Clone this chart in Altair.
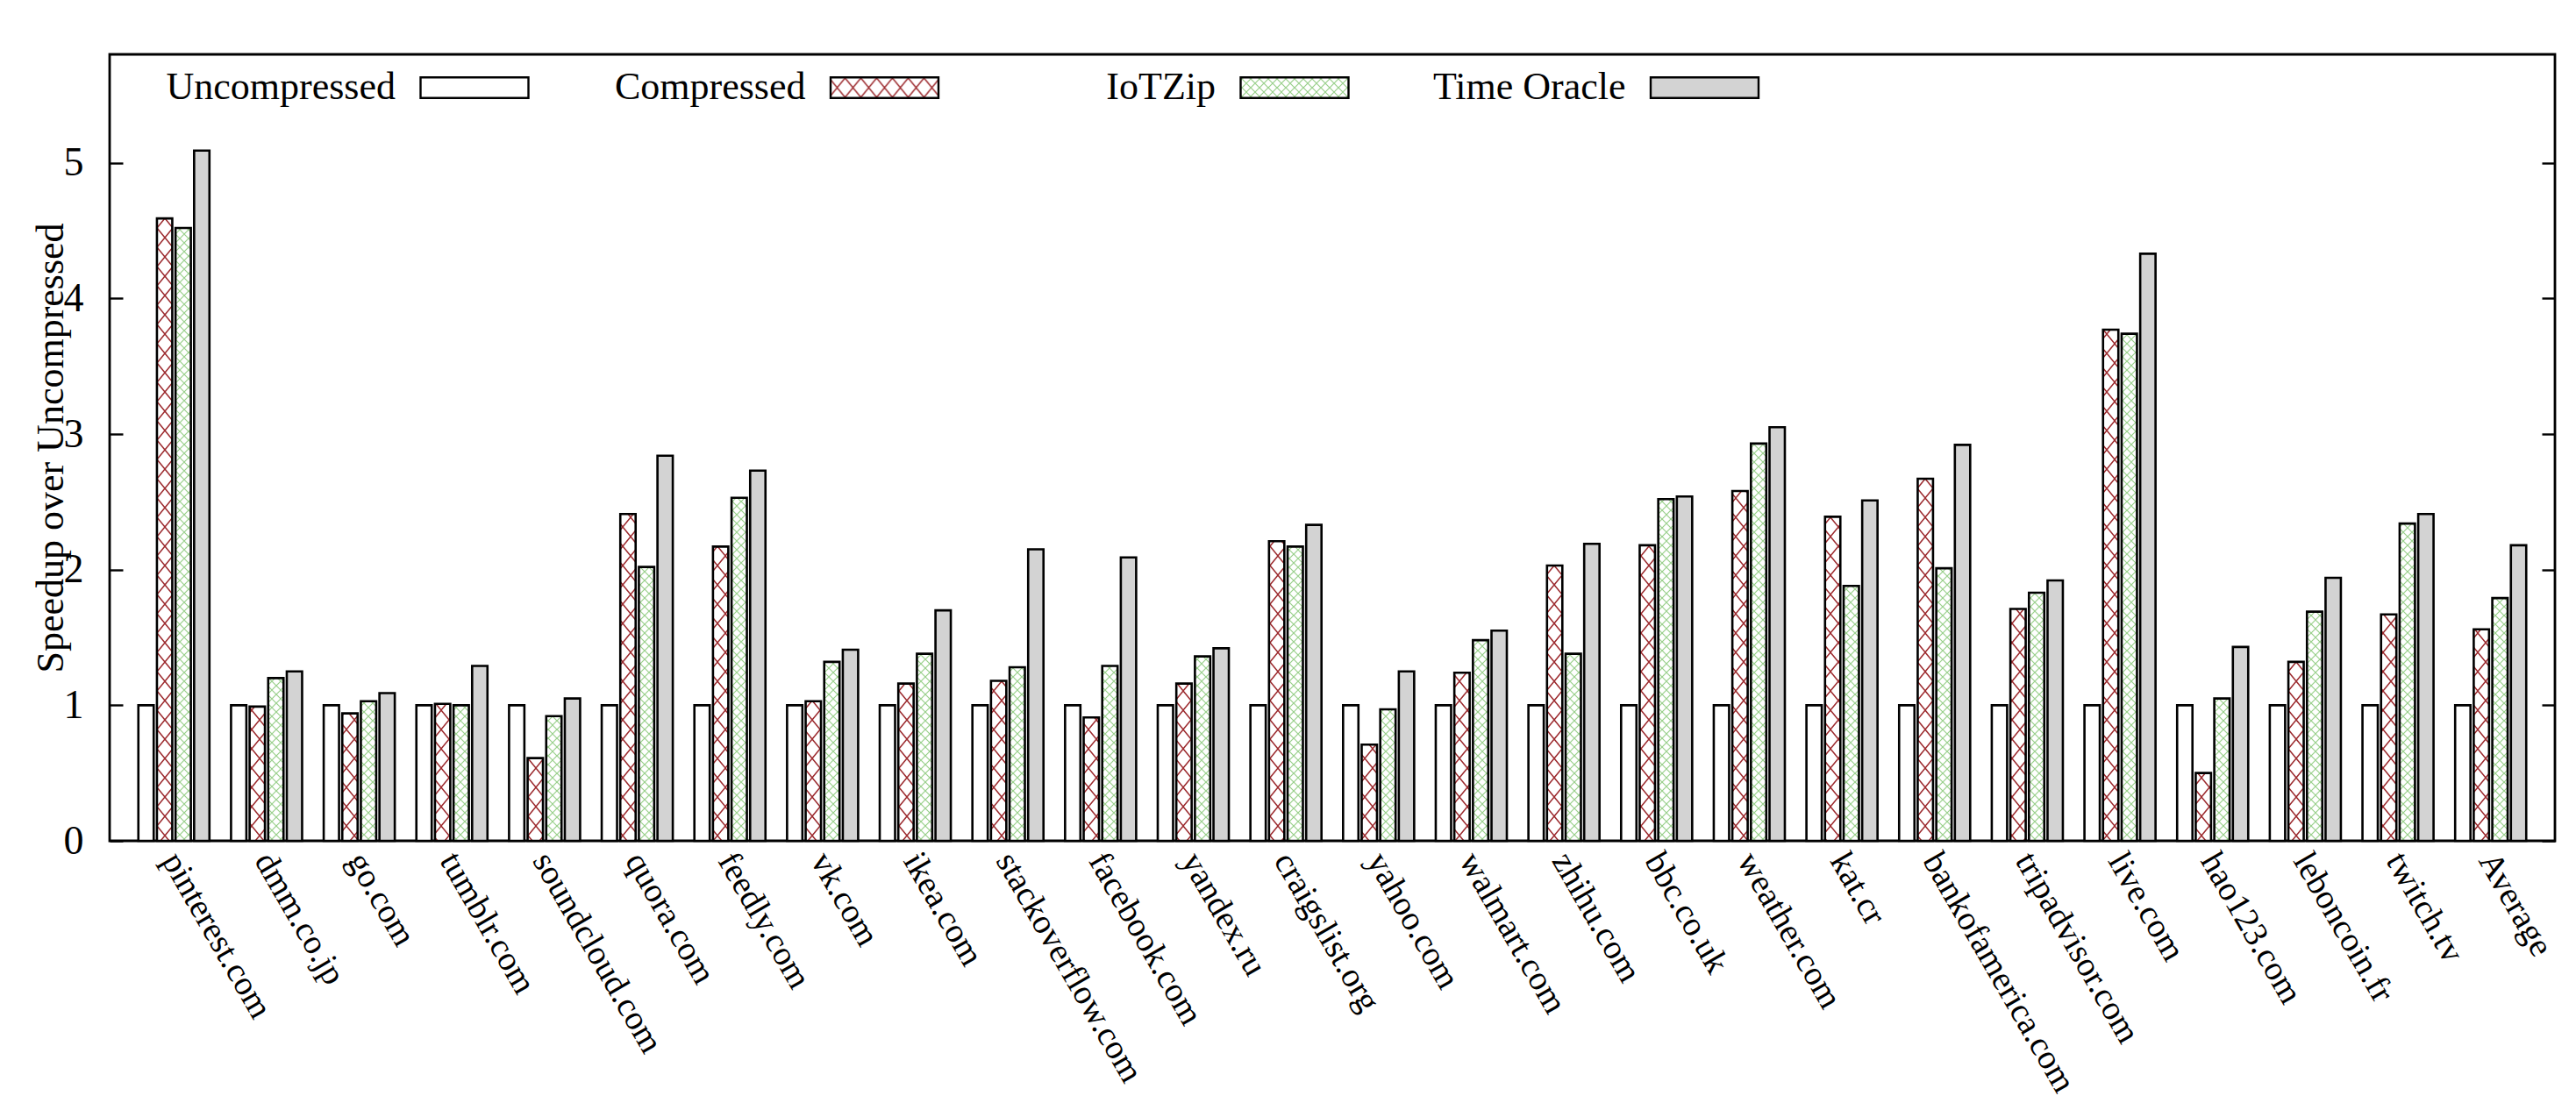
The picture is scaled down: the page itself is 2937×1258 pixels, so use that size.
import altair as alt
import pandas as pd
import jinja2

# ---------------- data ----------------
sites = ["pinterest.com", "dmm.co.jp", "go.com", "tumblr.com", "soundcloud.com",
         "quora.com", "feedly.com", "vk.com", "ikea.com", "stackoverflow.com",
         "facebook.com", "yandex.ru", "craigslist.org", "yahoo.com", "walmart.com",
         "zhihu.com", "bbc.co.uk", "weather.com", "kat.cr", "bankofamerica.com",
         "tripadvisor.com", "live.com", "hao123.com", "leboncoin.fr", "twitch.tv",
         "Average"]
series = ["Uncompressed", "Compressed", "IoTZip", "Time Oracle"]

uncompressed = [1.00] * 26
compressed = [4.59, 0.99, 0.94, 1.01, 0.61, 2.41, 2.17, 1.03, 1.16, 1.18,
              0.91, 1.16, 2.21, 0.71, 1.24, 2.03, 2.18, 2.58, 2.39, 2.67,
              1.71, 3.77, 0.50, 1.32, 1.67, 1.56]
iotzip = [4.52, 1.20, 1.03, 1.00, 0.92, 2.02, 2.53, 1.32, 1.38, 1.28,
          1.29, 1.36, 2.17, 0.97, 1.48, 1.38, 2.52, 2.93, 1.88, 2.01,
          1.83, 3.74, 1.05, 1.69, 2.34, 1.79]
oracle = [5.09, 1.25, 1.09, 1.29, 1.05, 2.84, 2.73, 1.41, 1.70, 2.15,
          2.09, 1.42, 2.33, 1.25, 1.55, 2.19, 2.54, 3.05, 2.51, 2.92,
          1.92, 4.33, 1.43, 1.94, 2.41, 2.18]
y_ticks = [0, 1, 2, 3, 4, 5]

fills = ["#ffffff", "url(#hatchRed)", "url(#hatchGreen)", "#d3d3d3"]

rows = []
for i, s in enumerate(sites):
    for name, vals in zip(series, [uncompressed, compressed, iotzip, oracle]):
        rows.append({"site": s, "series": name, "value": vals[i]})
df = pd.DataFrame(rows)

# ---------------- chart ----------------
W, H = 2788, 897
FONT = "Liberation Serif"
yscale = alt.Scale(domain=[0, 5.8], nice=False, zero=True)

x_enc = alt.X(
    "site:N", sort=sites,
    scale=alt.Scale(paddingInner=0.233, paddingOuter=0.31),
    axis=alt.Axis(title=None, labelAngle=60, labelAlign="left", labelBaseline="middle",
                  labelFont=FONT, labelFontSize=39, labelColor="black", labelPadding=16,
                  labelOffset=-4, ticks=False, domain=False, grid=False, labelLimit=0),
)

bars = alt.Chart(df).mark_bar(stroke="black", strokeWidth=2.6).encode(
    x=x_enc,
    xOffset=alt.XOffset("series:N", sort=series,
                        scale=alt.Scale(paddingInner=0.175, paddingOuter=0)),
    y=alt.Y("value:Q", scale=yscale,
            axis=alt.Axis(orient="left", values=y_ticks, title="Speedup over Uncompressed",
                          titleFont=FONT, titleFontSize=44, titleFontWeight="normal",
                          titleColor="black", titleX=-54, titleY=H / 2, titleAngle=-90,
                          titleAlign="center", titleBaseline="alphabetic",
                          labelFont=FONT, labelFontSize=46, labelColor="black",
                          labelPadding=30, ticks=False, tickSize=0, domain=False, grid=False)),
    fill=alt.Fill("series:N", sort=series,
                  scale=alt.Scale(domain=series, range=fills),
                  legend=alt.Legend(title=None, orient="none", legendX=63, legendY=-25,
                                    direction="horizontal", columns=4,
                                    symbolType="M-1,-0.19H1V0.19H-1Z", symbolSize=15129,
                                    symbolStrokeColor="black", symbolStrokeWidth=2.4,
                                    symbolOpacity=1,
                                    labelFont=FONT, labelFontSize=44, labelColor="black",
                                    labelAlign="right", labelOffset={"expr": "-153"},
                                    symbolOffset=290,
                                    labelLimit=0, columnPadding=47.5, gridAlign="all",
                                    padding=0)),
)

tick_left = alt.Chart(df).mark_point(opacity=0).encode(
    y=alt.Y("value:Q", scale=yscale,
            axis=alt.Axis(orient="right", offset=-W, values=y_ticks, labels=False,
                          ticks=True, tickSize=15, tickWidth=2.4, tickColor="black",
                          domain=False, grid=False, title=None))
)
tick_right = alt.Chart(df).mark_point(opacity=0).encode(
    y=alt.Y("value:Q", scale=yscale,
            axis=alt.Axis(orient="left", offset=-W, values=y_ticks, labels=False,
                          ticks=True, tickSize=15, tickWidth=2.4, tickColor="black",
                          domain=False, grid=False, title=None))
)

chart = (
    alt.layer(bars, tick_left, tick_right)
    .resolve_scale(y="independent")
    .properties(width=W, height=H, background="white",
                padding={"left": 28, "top": 29, "right": 5, "bottom": 5})
    .configure(font=FONT)
    .configure_view(stroke="black", strokeWidth=2.8)
)

PAGE = jinja2.Template("""<!DOCTYPE html>
<html>
<head>
  <meta charset="utf-8">
  <script type="text/javascript" src="{{ base_url }}/vega@{{ vega_version }}"></script>
  <script type="text/javascript" src="{{ base_url }}/vega-lite@{{ vegalite_version }}"></script>
  <script type="text/javascript" src="{{ base_url }}/vega-embed@{{ vegaembed_version }}"></script>
</head>
<body>
<svg width="0" height="0" style="position:absolute;left:0;top:0" aria-hidden="true">
  <defs>
    <pattern id="hatchRed" patternUnits="userSpaceOnUse" x="0" y="0" width="18" height="22">
      <rect x="0" y="0" width="18" height="22" fill="#ffffff"/>
      <path d="M-1,-1.22 L19,23.22 M19,-1.22 L-1,23.22" stroke="#9c2a2e" stroke-width="1.5" fill="none"/>
    </pattern>
    <pattern id="hatchGreen" patternUnits="userSpaceOnUse" x="0" y="0" width="10" height="10">
      <rect x="0" y="0" width="10" height="10" fill="#ffffff"/>
      <path d="M-1,-1 L11,11 M11,-1 L-1,11" stroke="#98d08a" stroke-width="1.2" fill="none"/>
    </pattern>
  </defs>
</svg>
<div id="{{ output_div }}"></div>
<script>
  (function(vegaEmbed) {
    var spec = {{ spec }};
    var embedOpt = {{ embed_options }};
    vegaEmbed("#{{ output_div }}", spec, embedOpt);
  })(vegaEmbed);
</script>
</body>
</html>
""")

chart.save("out.html", embed_options={"renderer": "svg", "actions": False}, template=PAGE)
